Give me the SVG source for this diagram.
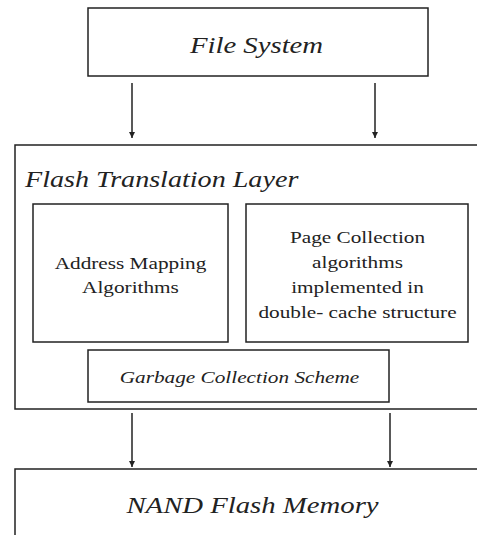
<svg xmlns="http://www.w3.org/2000/svg" width="477" height="535" viewBox="0 0 477 535">
<style>
.box{fill:#fff;stroke:#222;stroke-width:1.5}
.t{font-family:"Liberation Serif","Times New Roman",serif;fill:#222}
.i{font-style:italic}
.c{stroke:#222;stroke-width:1.5;fill:none}
</style>
<defs>
<marker id="ah" markerWidth="8" markerHeight="8" refX="6" refY="4" orient="auto" markerUnits="userSpaceOnUse">
<path d="M0,1 L6,4 L0,7 Z" fill="#222"/>
</marker>
</defs>
<rect width="477" height="535" fill="#fff"/>
<g id="fs">
<rect class="box" x="88" y="8" width="340" height="68"/>
<text class="t i" font-family="Liberation Serif, serif" transform="translate(256.5,53) scale(1.25,1)" font-size="23" text-anchor="middle">File System</text>
</g>
<g id="ftl">
<rect class="box" x="15" y="145" width="470" height="264"/>
<text class="t i" font-family="Liberation Serif, serif" transform="translate(25,187) scale(1.25,1)" font-size="22.5">Flash Translation Layer</text>
</g>
<g id="addr">
<rect class="box" x="33" y="204" width="195" height="138"/>
<g class="t" font-family="Liberation Serif, serif" font-size="17" text-anchor="middle">
<text transform="translate(130.5,269) scale(1.25,1)">Address Mapping</text>
<text transform="translate(130.5,293) scale(1.25,1)">Algorithms</text>
</g>
</g>
<g id="page">
<rect class="box" x="246" y="204" width="222" height="138"/>
<g class="t" font-family="Liberation Serif, serif" font-size="17" text-anchor="middle">
<text transform="translate(357.5,243) scale(1.25,1)">Page Collection</text>
<text transform="translate(357.5,268) scale(1.25,1)">algorithms</text>
<text transform="translate(357.5,293) scale(1.25,1)">implemented in</text>
<text transform="translate(357.5,318) scale(1.25,1)">double- cache structure</text>
</g>
</g>
<g id="gc">
<rect class="box" x="88" y="350" width="301" height="52"/>
<text class="t i" font-family="Liberation Serif, serif" transform="translate(239.5,383) scale(1.25,1)" font-size="17" text-anchor="middle">Garbage Collection Scheme</text>
</g>
<g id="nand">
<rect class="box" x="15" y="469" width="470" height="80"/>
<text class="t i" font-family="Liberation Serif, serif" transform="translate(252.5,513) scale(1.25,1)" font-size="23" text-anchor="middle">NAND Flash Memory</text>
</g>
<g id="connectors">
<line class="c" x1="132" y1="83" x2="132" y2="138" marker-end="url(#ah)"/>
<line class="c" x1="375" y1="83" x2="375" y2="138" marker-end="url(#ah)"/>
<line class="c" x1="132" y1="413" x2="132" y2="467" marker-end="url(#ah)"/>
<line class="c" x1="390" y1="413" x2="390" y2="467" marker-end="url(#ah)"/>
</g>
</svg>
